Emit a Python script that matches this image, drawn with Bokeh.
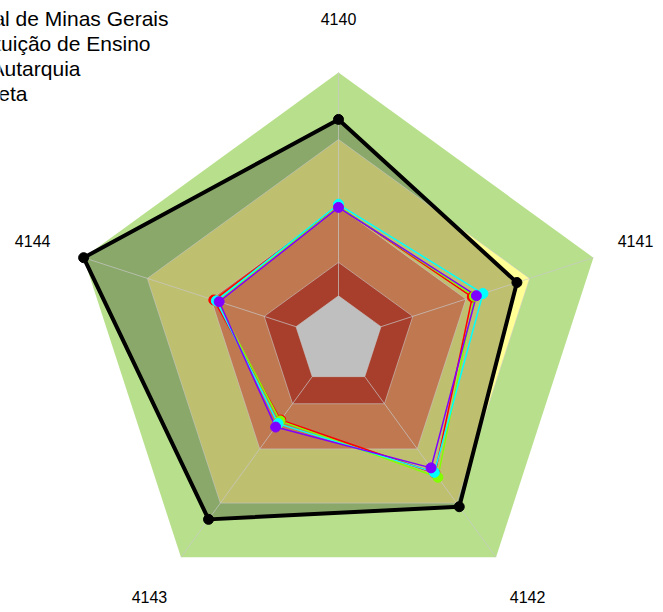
import numpy as np
from bokeh.plotting import figure
from bokeh.models import Range1d
from bokeh.embed import file_html
from bokeh.resources import INLINE
from bokeh.core.properties import value

# ---------------- data ----------------
axis_labels = ["4140", "4141", "4142", "4143", "4144"]

# band thresholds (0..1 scale) and their colours, outer edge of each band
band_levels = [0.0, 0.15, 0.40, 0.70, 1.0]
band_colors = ["#FFFFFF", "#E0553B", "#FFA06B", "#FFFF96", "#B8E08C"]

meta_values = [0.79, 0.64, 0.72, 0.79, 1.0]

series_red = [0.40, 0.43, 0.535, 0.24, 0.387]
series_green = [0.40, 0.44, 0.557, 0.245, 0.373]
series_cyan = [0.41, 0.48, 0.53, 0.26, 0.375]
series_purple = [0.396, 0.449, 0.505, 0.279, 0.362]
series_colors = ["#FF0000", "#80FF00", "#00FFFF", "#8000FF"]

legend_labels = ["Instituto Federal de Minas Gerais", "Instituição de Ensino",
                 "Autarquia", "Meta"]

# ---------------- geometry ----------------
R_PX = 268.0
CX, CY = 338.0, 340.0
W, H = 655, 604
n = len(axis_labels)
theta = np.pi / 2 - 2 * np.pi * np.arange(n) / n
CGAP = 1.0 / 6.0


def radius(v):
    return CGAP + (1 - CGAP) * np.asarray(v, dtype=float)


def poly(vals):
    r = radius(vals)
    return list(r * np.cos(theta)), list(r * np.sin(theta))


def sx(px):
    return (px - CX) / R_PX


def sy(py):
    return (CY - py) / R_PX


p = figure(width=W, height=H, output_backend="svg", toolbar_location=None,
           x_axis_type=None, y_axis_type=None,
           x_range=Range1d(sx(0), sx(W)), y_range=Range1d(sy(H), sy(0)),
           min_border=0, min_border_left=0, min_border_right=0,
           min_border_top=0, min_border_bottom=0)
p.outline_line_color = None
p.grid.visible = False
p.background_fill_color = "white"
p.border_fill_color = "white"

# bands (outer first)
for lev, col in reversed(list(zip(band_levels, band_colors))):
    xs, ys = poly([lev] * n)
    p.patch(xs, ys, fill_color=col, line_color=None)

# Meta overlay fill
mx, my = poly(meta_values)
p.patch(mx, my, fill_color="black", fill_alpha=0.25, line_color=None)

# grid: band rings and spokes
for lev in band_levels[:-1]:
    xs, ys = poly([lev] * n)
    p.line(xs + [xs[0]], ys + [ys[0]], line_color="#C8C8C8", line_alpha=0.6, line_width=1)
r0 = radius(0.0)
for t in theta:
    p.line([r0 * np.cos(t), np.cos(t)], [r0 * np.sin(t), np.sin(t)],
           line_color="#C8C8C8", line_alpha=0.7, line_width=1)

# Meta line
p.line(mx + [mx[0]], my + [my[0]], line_color="black", line_width=4)
p.scatter(mx, my, size=10, fill_color="black", line_color="black")

# other series
all_series = [series_red, series_green, series_cyan, series_purple]
for vals, col in zip(all_series, series_colors):
    xs, ys = poly(vals)
    p.line(xs + [xs[0]], ys + [ys[0]], line_color=col, line_width=1.5)
for vals, col in zip(all_series, series_colors):
    xs, ys = poly(vals)
    p.scatter(xs, ys, size=10, fill_color=col, line_color=col)

# axis labels (around radius 1.2, nudged inside the canvas at the edges)
lr = 1.2
lx = list(lr * np.cos(theta))
ly = list(lr * np.sin(theta))
lx[1] = min(lx[1], sx(W - 20))
ly[2] = max(ly[2], sy(H - 8))
ly[3] = max(ly[3], sy(H - 8))
p.text(x=lx, y=ly, text=axis_labels,
       text_align="center", text_baseline="middle", text_font=value("Liberation Sans"),
       text_font_size="16px", text_color="black")

# legend text (partially outside the view on the left)
leg_right_px = [168, 150, 80, 27]
leg_mid_px = [18, 43, 68, 93]
p.text(x=[sx(v) for v in leg_right_px], y=[sy(v) for v in leg_mid_px], text=legend_labels,
       text_align="right", text_baseline="middle", text_font=value("Liberation Sans"),
       text_font_size="21px", text_color="black")

open("out.html", "w").write(file_html(p, INLINE))
